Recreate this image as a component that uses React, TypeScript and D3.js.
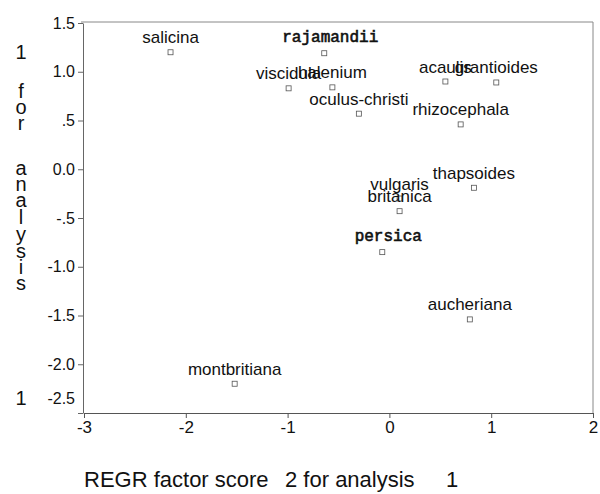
import React, { useEffect, useRef } from "react";
import * as d3 from "d3";

// species scores
const species = [
  "salicina", "rajamandii", "viscidula", "halenium", "oculus-christi",
  "acaulis", "grantioides", "rhizocephala", "thapsoides", "vulgaris",
  "britanica", "persica", "aucheriana", "montbritiana",
];
const score2 = [-2.15, -0.64, -0.99, -0.56, -0.30, 0.55, 1.05, 0.70, 0.83, 0.10, 0.10, -0.07, 0.79, -1.52];
const score1 = [1.20, 1.19, 0.83, 0.84, 0.57, 0.90, 0.89, 0.46, -0.19, -0.30, -0.43, -0.85, -1.54, -2.20];
const courierLabels = ["rajamandii", "persica"];

const xTicks = [-3, -2, -1, 0, 1, 2];
const yTicks = [1.5, 1.0, 0.5, 0.0, -0.5, -1.0, -1.5, -2.0, -2.5];
const yTickLabels = ["1.5", "1.0", ".5", "0.0", "-.5", "-1.0", "-1.5", "-2.0", "-2.5"];

const yTitleChars = ["1", "f", "o", "r", "a", "n", "a", "l", "y", "s", "i", "s"];
const yTitleRows = [52, 91, 107, 123, 168, 184, 200, 217, 234, 251, 267, 283];

const xTitleParts = ["REGR factor score", "2 for analysis", "1"];
const xTitleStarts = [84, 285, 446];

function Scatter() {
  const ref = useRef<SVGSVGElement>(null);

  useEffect(() => {
    const svg = d3.select(ref.current);
    svg.selectAll("*").remove();

    const x = d3.scaleLinear().domain([-3, 2]).range([84, 593]);
    const y = d3.scaleLinear().domain([-2.5, 1.5]).range([413, 23]);
    const font = "'Liberation Sans', Arial, sans-serif";

    // frame (top and right edges)
    svg.append("path")
      .attr("d", `M${x(-3) - 3},${y(1.5) - 1}H${x(2)}V${y(-2.5)}`)
      .attr("fill", "none")
      .attr("stroke", "#888")
      .attr("stroke-width", 1);

    // y axis
    const yAxis = svg.append("g")
      .attr("transform", `translate(${x(-3) - 1},0)`)
      .call(
        d3.axisLeft(y)
          .tickValues(yTicks)
          .tickSize(5)
          .tickSizeOuter(0)
          .tickPadding(3)
          .tickFormat((d, i) => yTickLabels[i])
      );
    yAxis.select(".domain").attr("stroke", "#666");
    yAxis.selectAll(".tick line").attr("stroke", "#666");
    yAxis.selectAll("text")
      .attr("font-family", font)
      .attr("font-size", 16)
      .attr("fill", "#111");
    // the lowest label sits above its tick in the original
    yAxis.selectAll(".tick")
      .filter((d) => d === -2.5)
      .select("text")
      .attr("y", -15);

    // x axis
    const xAxis = svg.append("g")
      .attr("transform", `translate(0,${y(-2.5)})`)
      .call(
        d3.axisBottom(x)
          .tickValues(xTicks)
          .tickSize(5)
          .tickSizeOuter(0)
          .tickPadding(3)
          .tickFormat((d) => String(d))
      );
    xAxis.select(".domain").attr("stroke", "#555");
    xAxis.selectAll(".tick line").attr("stroke", "#555");
    xAxis.selectAll("text")
      .attr("font-family", font)
      .attr("font-size", 17)
      .attr("fill", "#111");

    const pts = species.map((name, i) => ({ name, sx: score2[i], sy: score1[i] }));

    // markers
    svg.append("g")
      .selectAll("rect")
      .data(pts)
      .join("rect")
      .attr("x", (d) => x(d.sx) - 2.5)
      .attr("y", (d) => y(d.sy) - 2.5)
      .attr("width", 5)
      .attr("height", 5)
      .attr("fill", "none")
      .attr("stroke", "#555")
      .attr("stroke-width", 0.8);

    // labels
    const isMono = (name: string) => courierLabels.includes(name);
    svg.append("g")
      .selectAll("text")
      .data(pts)
      .join("text")
      .attr("x", (d) => x(d.sx) + (isMono(d.name) ? 6 : 0))
      .attr("y", (d) => y(d.sy) - (isMono(d.name) ? 11 : 9))
      .attr("text-anchor", "middle")
      .attr("font-family", (d) =>
        isMono(d.name) ? "'Liberation Mono', 'Courier New', monospace" : font
      )
      .attr("font-size", (d) => (isMono(d.name) ? 16 : 17))
      .attr("fill", "#111")
      .attr("stroke", (d) => (isMono(d.name) ? "#111" : "none"))
      .attr("stroke-width", 0.6)
      .text((d) => d.name);

    // y title, stacked letters
    svg.append("g")
      .selectAll("text")
      .data(yTitleChars)
      .join("text")
      .attr("x", 21)
      .attr("y", (d, i) => yTitleRows[i] + 7)
      .attr("text-anchor", "middle")
      .attr("font-family", font)
      .attr("font-size", 20)
      .attr("fill", "#111")
      .text((d) => d);
    svg.append("text")
      .attr("x", 21)
      .attr("y", 405)
      .attr("text-anchor", "middle")
      .attr("font-family", font)
      .attr("font-size", 20)
      .attr("fill", "#111")
      .text("1");

    // x title
    svg.append("g")
      .selectAll("text")
      .data(xTitleParts)
      .join("text")
      .attr("x", (d, i) => xTitleStarts[i])
      .attr("y", 487)
      .attr("font-family", font)
      .attr("font-size", 22)
      .attr("fill", "#111")
      .text((d) => d);
  }, []);

  return (
    <svg
      ref={ref}
      width={600}
      height={494}
      style={{ position: "absolute", left: 0, top: 0, background: "#fff" }}
    />
  );
}

export default function App() {
  return <Scatter />;
}
